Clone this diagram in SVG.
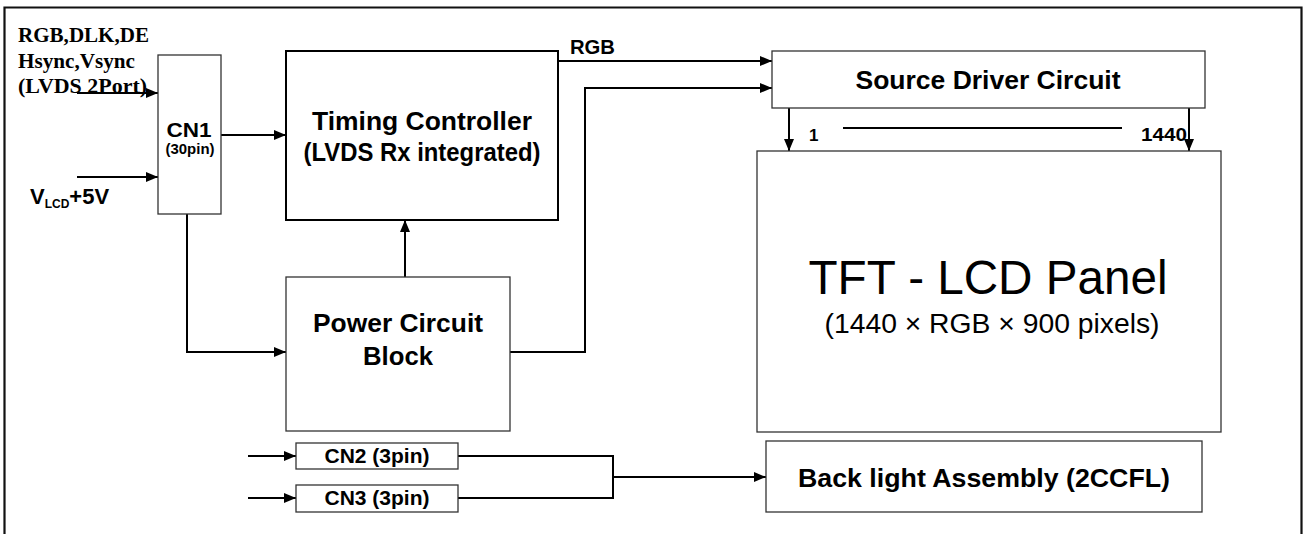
<svg xmlns="http://www.w3.org/2000/svg" width="1306" height="534" viewBox="0 0 1306 534">
<defs>
<marker id="ah" markerWidth="12" markerHeight="10" refX="12" refY="5" orient="auto" markerUnits="userSpaceOnUse">
<path d="M0,0 L12,5 L0,10 Z" fill="#000"/>
</marker>
<style>
.box{fill:#fff;stroke:#333;stroke-width:1.3}
.boxb{fill:#fff;stroke:#000;stroke-width:2}
.ln{fill:none;stroke:#000;stroke-width:2}
.arr{fill:none;stroke:#000;stroke-width:2;marker-end:url(#ah)}
.t{font-family:"Liberation Sans",Arial,sans-serif;font-weight:bold;fill:#000}
.s{font-family:"Liberation Serif","Times New Roman",serif;font-weight:bold;fill:#000}
.r{font-family:"Liberation Sans",Arial,sans-serif;fill:#000}
</style>
</defs>
<rect width="1306" height="534" fill="#fff"/>
<path d="M4.5,534 V7.5 H1301.5 V534" fill="none" stroke="#111" stroke-width="2.2"/>

<g id="input-labels">
<text class="s" x="18" y="42" font-size="20" textLength="131" lengthAdjust="spacingAndGlyphs">RGB,DLK,DE</text>
<text class="s" x="18" y="68" font-size="20" textLength="117" lengthAdjust="spacingAndGlyphs">Hsync,Vsync</text>
<text class="s" x="18" y="93" font-size="20" textLength="129" lengthAdjust="spacingAndGlyphs">(LVDS 2Port)</text>
<text class="t" x="30" y="204" font-size="22">V<tspan font-size="12" dy="4">LCD</tspan><tspan dy="-4">+5V</tspan></text>
</g>

<g id="connectors">
<path class="arr" d="M77,93 H158"/>
<path class="arr" d="M77,177 H158"/>
<path class="arr" d="M221,135 H286"/>
<path class="arr" d="M187,214 V352 H286"/>
<path class="arr" d="M405,277 V220"/>
<path class="arr" d="M558,61 H772"/>
<path class="arr" d="M510,352 H585 V88 H772"/>
<path class="arr" d="M789,108 V151"/>
<path class="arr" d="M1189,108 V151"/>
<path class="ln" d="M843,128 H1122"/>
<path class="arr" d="M248,456 H296"/>
<path class="arr" d="M248,498 H296"/>
<path class="ln" d="M458,456 H613 V498 H458"/>
<path class="arr" d="M613,477 H766"/>
<text class="t" x="570" y="54" font-size="20" textLength="45" lengthAdjust="spacingAndGlyphs">RGB</text>
<text class="t" x="809" y="141" font-size="17">1</text>
<text class="t" x="1187" y="141" font-size="18" text-anchor="end" textLength="46" lengthAdjust="spacingAndGlyphs">1440</text>
</g>

<g id="cn1">
<rect class="box" x="158" y="55" width="63" height="159"/>
<text class="t" x="189" y="137" font-size="20" text-anchor="middle" textLength="45" lengthAdjust="spacingAndGlyphs">CN1</text>
<text class="t" x="190" y="154" font-size="14" text-anchor="middle" textLength="49" lengthAdjust="spacingAndGlyphs">(30pin)</text>
</g>

<g id="timing-controller">
<rect class="boxb" x="286" y="51" width="272" height="169"/>
<text class="t" x="422" y="130" font-size="26" text-anchor="middle" textLength="220" lengthAdjust="spacingAndGlyphs">Timing Controller</text>
<text class="t" x="422" y="161" font-size="26" text-anchor="middle" textLength="237" lengthAdjust="spacingAndGlyphs">(LVDS Rx integrated)</text>
</g>

<g id="source-driver">
<rect class="box" x="772" y="51" width="433" height="57"/>
<text class="t" x="988" y="89" font-size="25" text-anchor="middle" textLength="265" lengthAdjust="spacingAndGlyphs">Source Driver Circuit</text>
</g>

<g id="tft-panel">
<rect class="box" x="757" y="151" width="464" height="281" stroke="#555"/>
<text class="r" x="988" y="294" font-size="48" text-anchor="middle" textLength="359" lengthAdjust="spacingAndGlyphs">TFT - LCD Panel</text>
<text class="r" x="992" y="333" font-size="27" text-anchor="middle" textLength="335" lengthAdjust="spacingAndGlyphs">(1440 × RGB × 900 pixels)</text>
</g>

<g id="power-circuit">
<rect class="box" x="286" y="277" width="224" height="154"/>
<text class="t" x="398" y="332" font-size="26" text-anchor="middle" textLength="170" lengthAdjust="spacingAndGlyphs">Power Circuit</text>
<text class="t" x="398" y="365" font-size="26" text-anchor="middle" textLength="70" lengthAdjust="spacingAndGlyphs">Block</text>
</g>

<g id="cn2">
<rect class="box" x="296" y="443" width="162" height="26"/>
<text class="t" x="377" y="463" font-size="20" text-anchor="middle" textLength="105" lengthAdjust="spacingAndGlyphs">CN2 (3pin)</text>
</g>

<g id="cn3">
<rect class="box" x="296" y="485" width="162" height="27"/>
<text class="t" x="377" y="505" font-size="20" text-anchor="middle" textLength="105" lengthAdjust="spacingAndGlyphs">CN3 (3pin)</text>
</g>

<g id="backlight">
<rect class="box" x="766" y="441" width="436" height="71"/>
<text class="t" x="984" y="487" font-size="26" text-anchor="middle" textLength="372" lengthAdjust="spacingAndGlyphs">Back light Assembly (2CCFL)</text>
</g>
</svg>
